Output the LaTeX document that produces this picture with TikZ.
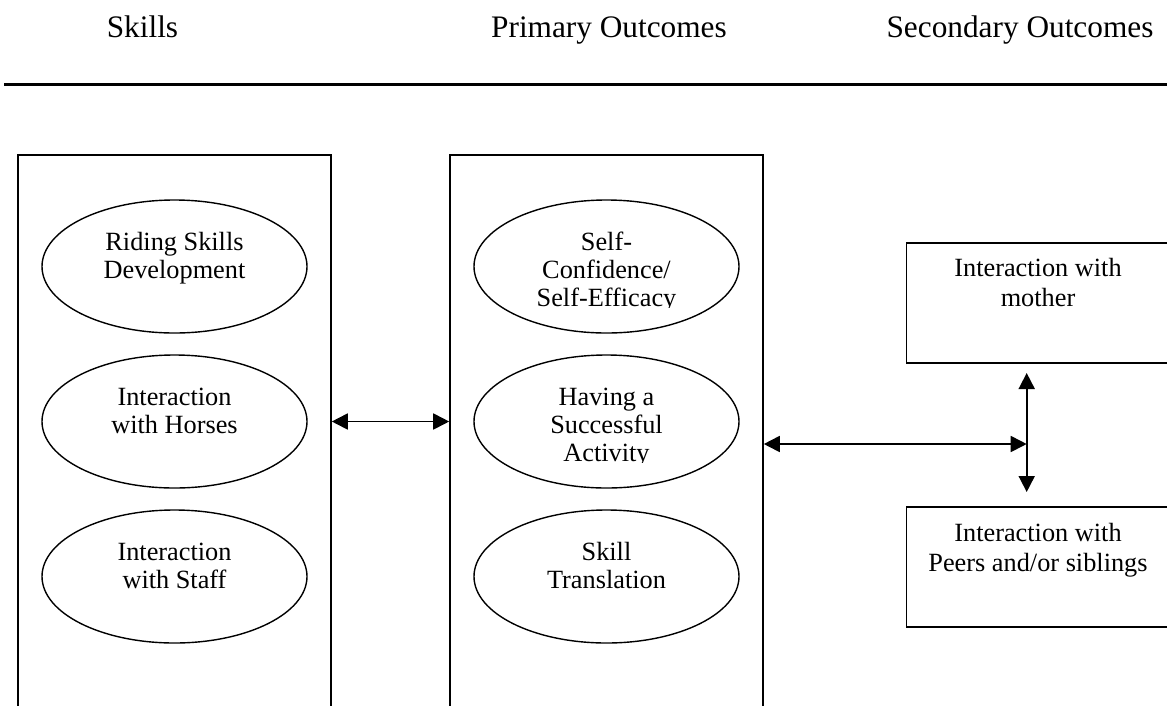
\documentclass[tikz,border=0pt]{standalone}
\usepackage{fontspec}
\setmainfont{Liberation Serif}
\usetikzlibrary{arrows.meta,shapes.geometric}
% centred lines whose first baseline is the node's base
\newcommand{\cellstack}[1]{\begin{tabular}[t]{@{}c@{}}#1\end{tabular}}
\begin{document}
\begin{tikzpicture}[x=1pt,y=-1pt,
  frame/.style={draw, line width=1.6pt, rectangle, inner sep=0pt},
  oval/.style={draw, line width=1.4pt, ellipse, minimum width=265pt, minimum height=133pt, inner sep=0pt},
  lbl/.style={inner sep=0pt, anchor=base, font=\fontsize{26.3}{28.3}\selectfont},
  boxlbl/.style={inner sep=0pt, anchor=base, font=\fontsize{26.3}{30}\selectfont},
  head/.style={inner sep=0pt, anchor=base, font=\fontsize{31.3}{34}\selectfont},
  link/.style={line width=1.8pt, {Triangle[length=16pt,width=16pt]}-{Triangle[length=16pt,width=16pt]}}
]
\clip (0,0) rectangle (1167,705);
\fill[white] (0,0) rectangle (1167,705);

% column headings and rule
\node[head] (hskills) at (142.5,37) {Skills};
\node[head] (hprim) at (609,37) {Primary Outcomes};
\node[head] (hsec) at (1020,37) {Secondary Outcomes};
\draw[line width=3pt] (4,84) -- (1167,84);

% the two open-ended columns
\node[frame, minimum width=313pt, minimum height=605pt] (skills) at (174.5,457.5) {};
\node[frame, minimum width=313pt, minimum height=605pt] (primary) at (606.5,457.5) {};

% skills
\node[oval] (riding) at (174.5,266.5) {};
\node[oval] (horses) at (174.5,421.5) {};
\node[oval] (staff) at (174.5,576.5) {};
\node[lbl] (tRiding) at (174.5,250) {\cellstack{Riding Skills\\Development}};
\node[lbl] (tHorses) at (174.5,405) {\cellstack{Interaction\\with Horses}};
\node[lbl] (tStaff) at (174.5,560) {\cellstack{Interaction\\with Staff}};

% primary outcomes
\node[oval] (confidence) at (606.5,266.5) {};
\node[oval] (success) at (606.5,421.5) {};
\node[oval] (translation) at (606.5,576.5) {};
\begin{scope}
  \clip (474,200) rectangle (739,307.4);
  \node[lbl] (tConfidence) at (606.5,250) {\cellstack{Self-\\Confidence/\\Self-Efficacy}};
\end{scope}
\begin{scope}
  \clip (474,355) rectangle (739,462.4);
  \node[lbl] (tSuccess) at (606.5,405) {\cellstack{Having a\\Successful\\Activity}};
\end{scope}
\node[lbl] (tTranslation) at (606.5,560) {\cellstack{Skill\\Translation}};

% secondary outcomes
\node[frame, minimum width=273.3pt, minimum height=120pt] (mother) at (1043.3,302.7) {};
\node[frame, minimum width=273.3pt, minimum height=120pt] (peers) at (1043.3,566.7) {};
\node[boxlbl] (tMother) at (1038,276) {\cellstack{Interaction with\\mother}};
\node[boxlbl] (tPeers) at (1038,541) {\cellstack{Interaction with\\Peers and/or siblings}};

% connectors
\coordinate (junction) at (1026.7,444);
\coordinate (upper) at (1026.7,373);
\coordinate (lower) at (1026.7,492);
\draw[link] (skills.east |- horses.center) -- (primary.west |- horses.center);
\draw[link] (primary.east |- junction) -- (junction);
\draw[link] (upper) -- (lower);
\end{tikzpicture}
\end{document}
